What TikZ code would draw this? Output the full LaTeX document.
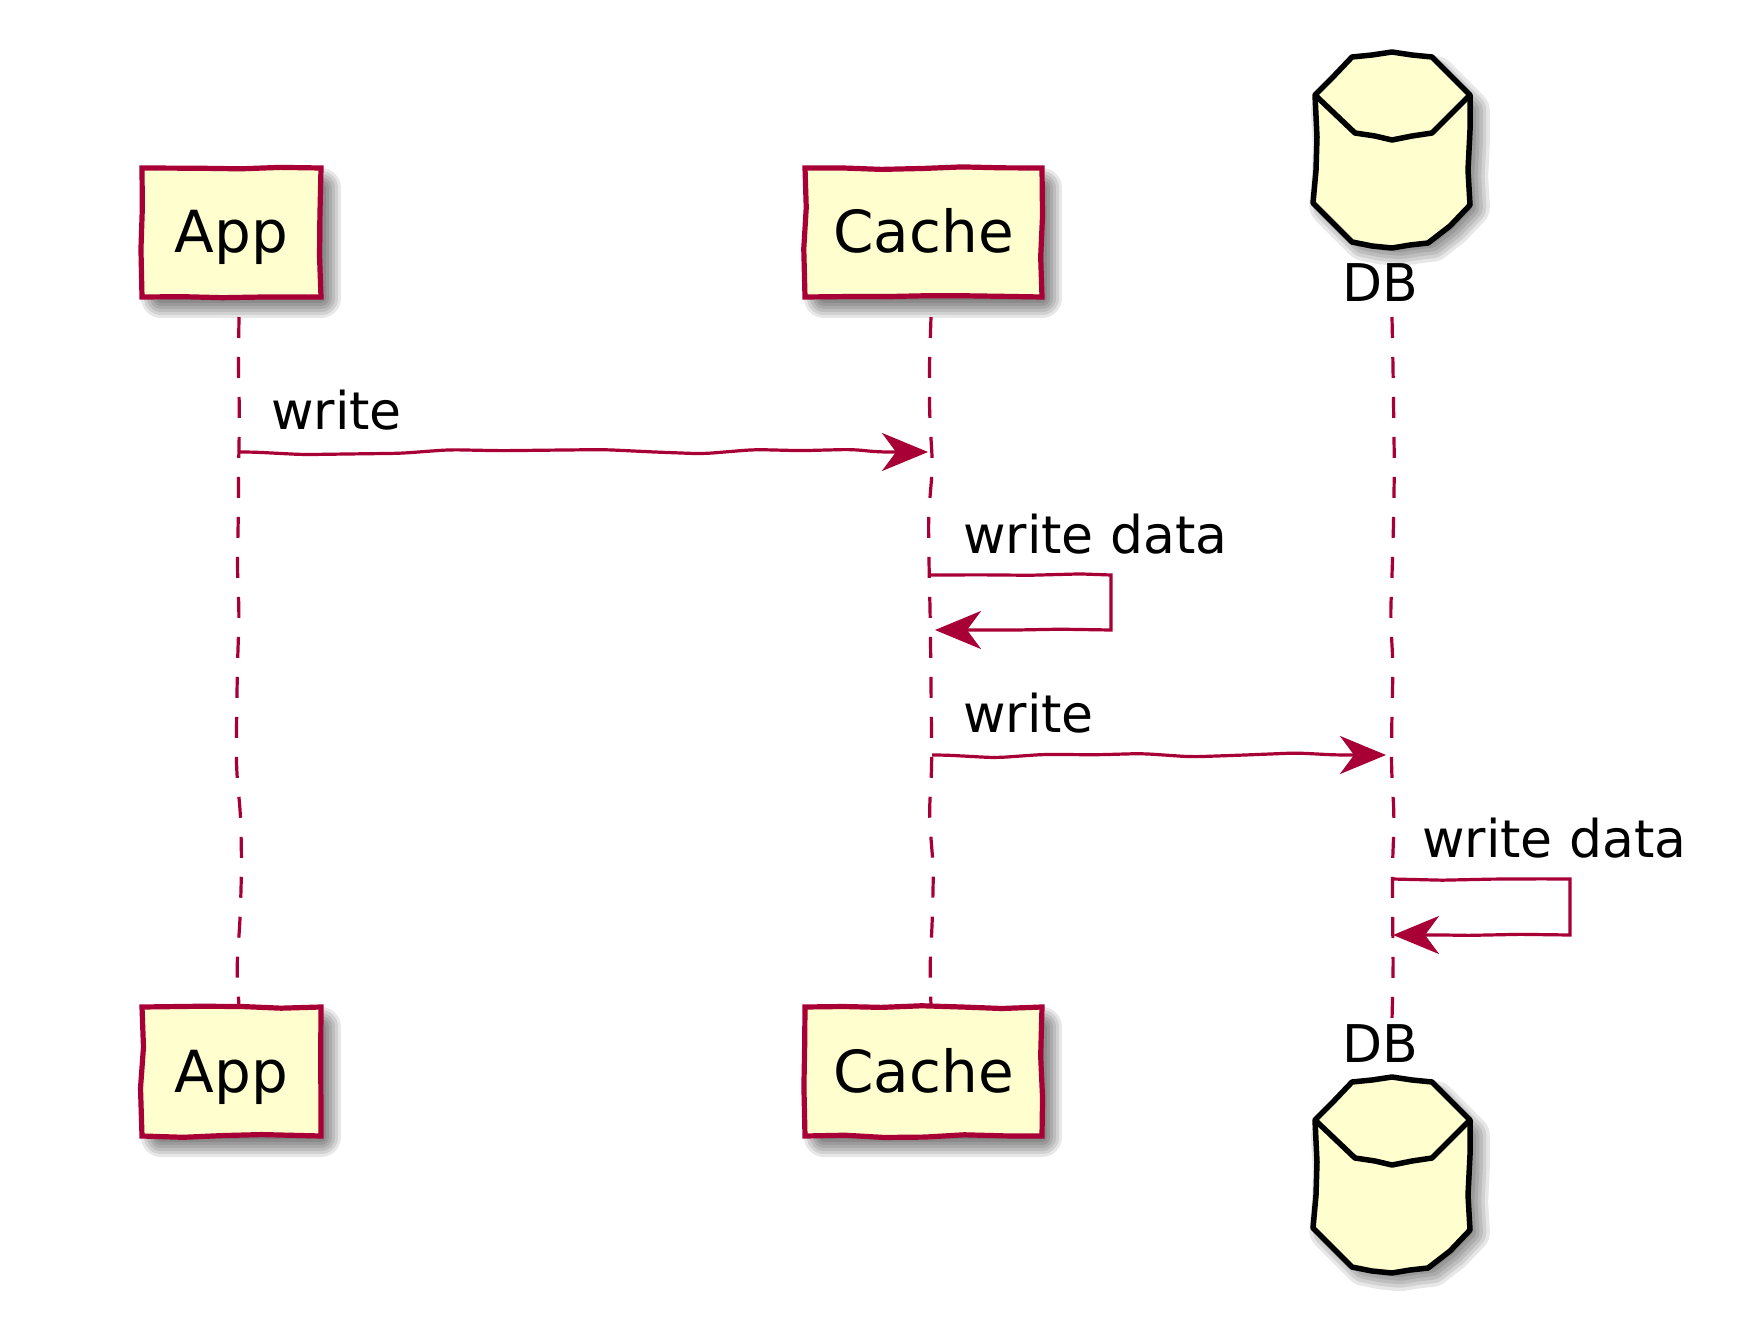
\documentclass[tikz,border=0pt]{standalone}
\usepackage{fontspec}
\setmainfont{DejaVu Sans}
\usetikzlibrary{arrows.meta,decorations.pathmorphing}
\definecolor{umlred}{HTML}{A80036}
\definecolor{umlfill}{HTML}{FEFECE}
\tikzset{
  partbox/.style={draw=umlred,fill=umlfill,line width=5.2pt,inner sep=0pt,outer sep=0pt,text height=85pt,text depth=44pt,align=center,
    font=\fontsize{58}{62}\selectfont,anchor=north west,
    decorate,decoration={random steps,segment length=40pt,amplitude=1.5pt}},
  msglabel/.style={anchor=base west,inner sep=0pt,font=\fontsize{52}{56}\selectfont,text=black},
  dblabel/.style={anchor=base west,inner sep=0pt,font=\fontsize{52}{56}\selectfont,text=black},
  lifeline/.style={draw=umlred,line width=3.2pt,dash pattern=on 21pt off 19pt,
    decorate,decoration={random steps,segment length=50pt,amplitude=2.8pt},rounded corners=15pt},
  msg/.style={draw=umlred,line width=3.2pt,-{Stealth[length=46pt,width=38pt,inset=14pt,fill=umlred]},rounded corners=10pt},
  wavy/.style={decorate,decoration={random steps,segment length=50pt,amplitude=2.8pt,pre=lineto,pre length=12pt,post=lineto,post length=50pt}},
  selfmsg/.style={draw=umlred,line width=3.2pt,-{Stealth[length=46pt,width=38pt,inset=14pt,fill=umlred]},
    decorate,decoration={random steps,segment length=50pt,amplitude=1.2pt,post=lineto,post length=50pt}},
  cyl/.style={draw=black,line width=5.5pt,line join=round},
}
\newcommand{\softshadow}[2]{%
  \foreach \w in {#2}{%
    \fill[black,opacity=.095,draw=black,line width=\w pt,line join=round] #1;}}
\newcommand{\dbbody}{(1315,95) -- (1332,78) -- (1352,57) -- (1372,55) -- (1392,52) -- (1412,55) -- (1432,57) -- (1450,75) -- (1470,95) -- (1470,130) -- (1468,170) -- (1470,205) -- (1450,226) -- (1428,243) -- (1410,245) -- (1392,248) -- (1372,246) -- (1352,242) -- (1332,222) -- (1313,203) -- (1316,170) -- (1317,137) -- cycle}
\newcommand{\dbrim}{(1315,95) -- (1355,133) -- (1375,136) -- (1392,140) -- (1412,136) -- (1432,133) -- (1470,95)}
\begin{document}
\begin{tikzpicture}[x=1pt,y=-1pt]
\useasboundingbox[fill=white] (0,0) rectangle (1754,1332);
\pgfmathsetseed{7}
% shadows
\softshadow{(161,188) rectangle (321,298)}{40,34,28,22,16,10,4}
\softshadow{(824,188) rectangle (1042,298)}{40,34,28,22,16,10,4}
\softshadow{(161,1027) rectangle (321,1137)}{40,34,28,22,16,10,4}
\softshadow{(824,1027) rectangle (1042,1137)}{40,34,28,22,16,10,4}
\begin{scope}[shift={(8,9)},scale around={.87:(1392,150)}]\softshadow{\dbbody}{44,37,30,23,16,9,4}\end{scope}
\begin{scope}[shift={(8,1034)},scale around={.87:(1392,150)}]\softshadow{\dbbody}{44,37,30,23,16,9,4}\end{scope}
% participant boxes
\node[partbox,minimum width=179pt] (appT) at (142,168) {App};
\node[partbox,minimum width=237pt] (cacheT) at (805,168) {Cache};
\node[partbox,minimum width=179pt] (appB) at (142,1007) {App};
\node[partbox,minimum width=237pt] (cacheB) at (805,1007) {Cache};
% databases
\filldraw[cyl,fill=umlfill] \dbbody; \draw[cyl] \dbrim;
\begin{scope}[shift={(0,1025)}]
\filldraw[cyl,fill=umlfill] \dbbody; \draw[cyl] \dbrim;
\end{scope}
\node[dblabel] (dbT) at (1342,302) {DB};
\node[dblabel] (dbB) at (1342,1062) {DB};
% lifeline ends
\coordinate (a0) at (239,317); \coordinate (a1) at (239,1006);
\coordinate (c0) at (931,317); \coordinate (c1) at (931,1006);
\coordinate (d0) at (1392,317); \coordinate (d1) at (1392,1020);
\draw[lifeline] (a0) -- (a1);
\draw[lifeline] (c0) -- (c1);
\draw[lifeline] (d0) -- (d1);
% messages
\coordinate (m1a) at (240,452); \coordinate (m1b) at (928,452);
\coordinate (m2a) at (931,575); \coordinate (m2r) at (1111,575); \coordinate (m2s) at (1111,630); \coordinate (m2b) at (935,630);
\coordinate (m3a) at (932,755); \coordinate (m3b) at (1386,755);
\coordinate (m4a) at (1392,879); \coordinate (m4r) at (1570,879); \coordinate (m4s) at (1570,935); \coordinate (m4b) at (1393,935);
\draw[msg,wavy] (m1a) -- (m1b);
\draw[selfmsg] (m2a) -- (m2r) -- (m2s) -- (m2b);
\draw[msg,wavy] (m3a) -- (m3b);
\draw[selfmsg] (m4a) -- (m4r) -- (m4s) -- (m4b);
\node[msglabel] (l1) at (271,429) {write};
\node[msglabel] (l2) at (963,553) {write data};
\node[msglabel] (l3) at (963,732) {write};
\node[msglabel] (l4) at (1422,857) {write data};
\end{tikzpicture}
\end{document}
